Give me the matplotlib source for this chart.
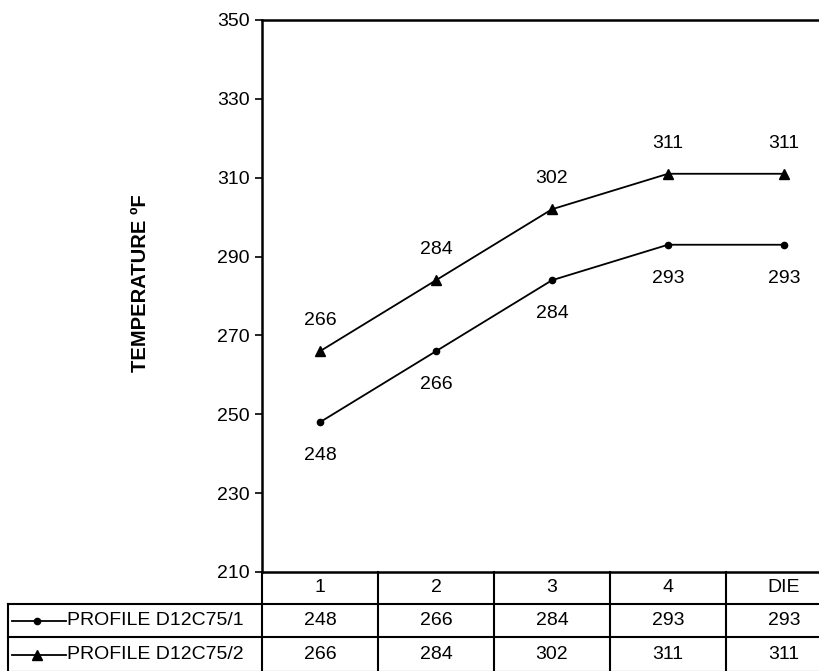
import numpy as np
import matplotlib
matplotlib.use("Agg")
import matplotlib.pyplot as plt
from matplotlib.transforms import blended_transform_factory
from matplotlib.lines import Line2D

plt.rcParams['font.family'] = ['Liberation Sans', 'DejaVu Sans']

categories = ["1", "2", "3", "4", "DIE"]
series_names = ["PROFILE D12C75/1", "PROFILE D12C75/2"]
profile1 = [248, 266, 284, 293, 293]
profile2 = [266, 284, 302, 311, 311]
yticks = [210, 230, 250, 270, 290, 310, 330, 350]

FS = 14
W, H = 820, 671
fig = plt.figure(figsize=(W / 100, H / 100), dpi=100)

def fx(px):
    return px / W

def fy(py):
    return 1 - py / H

ax_left, ax_right, ax_top, ax_bot = 262, 842, 20, 572
ax = fig.add_axes([fx(ax_left), fy(ax_bot), (ax_right - ax_left) / W, (ax_bot - ax_top) / H])
ax.set_xlim(-0.5, len(categories) - 0.5)
ax.set_ylim(210, 350)
ax.set_yticks(yticks)
ax.set_yticklabels([str(v) for v in yticks], fontsize=FS)
ax.tick_params(axis='y', direction='out', length=5, width=1.2, pad=4)
ax.tick_params(axis='x', length=0, labelbottom=False)
for s in ['left', 'top', 'bottom', 'right']:
    ax.spines[s].set_linewidth(1.8)
fig.text(fx(140), fy(283), "TEMPERATURE ºF", rotation=90, ha='center', va='center',
         fontsize=14.5, fontweight='bold')

x = np.arange(len(categories))
ax.plot(x, profile1, color='black', lw=1.3, marker='o', ms=4.5, clip_on=False)
ax.plot(x, profile2, color='black', lw=1.3, marker='^', ms=6.5, clip_on=False)

for xi, v in zip(x, profile1):
    ax.annotate(str(v), (xi, v), xytext=(0, -24), textcoords='offset points',
                ha='center', va='center', fontsize=FS)
for xi, v in zip(x, profile2):
    ax.annotate(str(v), (xi, v), xytext=(0, 22), textcoords='offset points',
                ha='center', va='center', fontsize=FS)

# data table below the axes
tr = blended_transform_factory(ax.transData, fig.transFigure)
row_top = [572, 604, 637, 672]
lw_t = 1.5
left_px = 8
for i, py in enumerate(row_top):
    if i == 0:
        continue
    fig.add_artist(Line2D([fx(left_px), 1.1], [fy(py), fy(py)], color='black', lw=lw_t))
fig.add_artist(Line2D([fx(left_px), fx(left_px)], [fy(row_top[1]), fy(row_top[3])], color='black', lw=lw_t))
for i in range(len(categories) + 1):
    xb = i - 0.5
    fig.add_artist(Line2D([xb, xb], [fy(row_top[0]), fy(row_top[3])], color='black', lw=lw_t, transform=tr))
for i, c in enumerate(categories):
    fig.text(i, fy((row_top[0] + row_top[1]) / 2), c, transform=tr, ha='center', va='center', fontsize=FS)
markers = ['o', '^']
msizes = [4.5, 6.5]
for r, (name, vals) in enumerate(zip(series_names, [profile1, profile2])):
    yc = fy((row_top[r + 1] + row_top[r + 2]) / 2)
    for i, v in enumerate(vals):
        fig.text(i, yc, str(v), transform=tr, ha='center', va='center', fontsize=FS)
    fig.add_artist(Line2D([fx(12), fx(66)], [yc, yc], color='black', lw=1.3))
    fig.add_artist(Line2D([fx(37)], [yc], color='black', marker=markers[r], ms=msizes[r], lw=0))
    fig.text(fx(67), yc, name, ha='left', va='center', fontsize=FS)

fig.savefig("out.png", dpi=100)
